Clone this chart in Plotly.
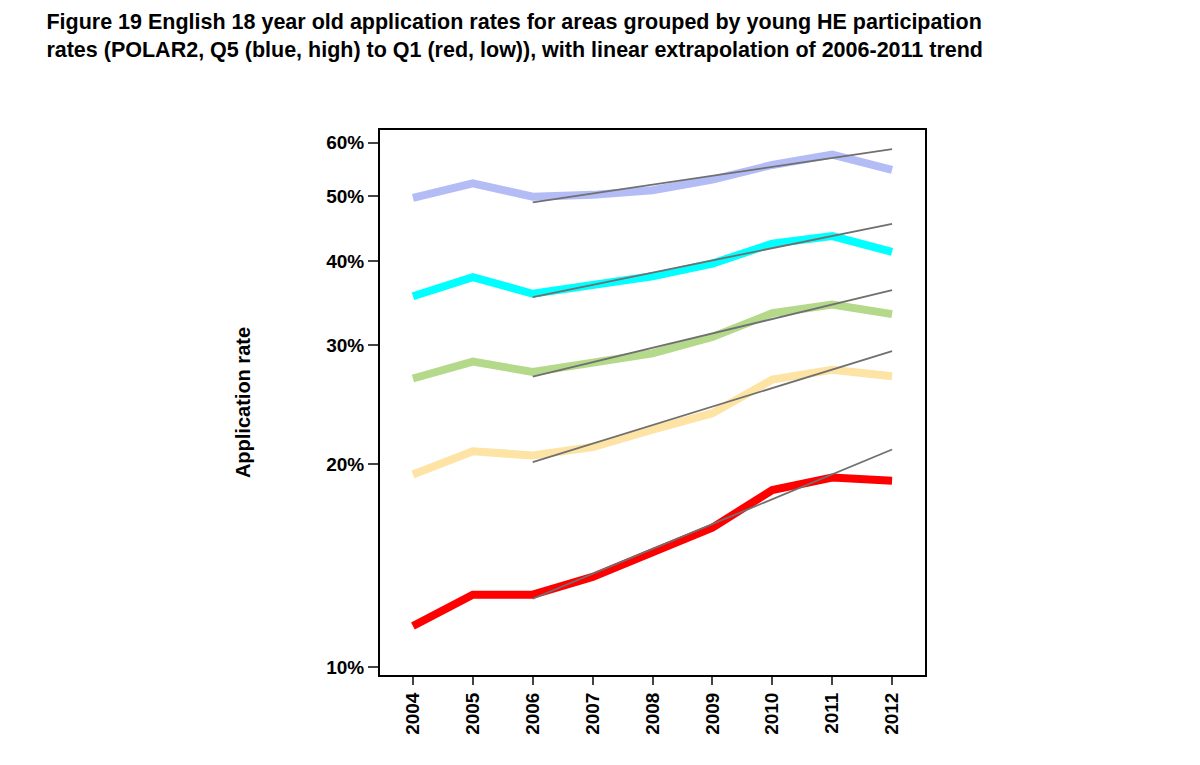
import numpy as np
import plotly.graph_objects as go

years = [2004, 2005, 2006, 2007, 2008, 2009, 2010, 2011, 2012]
q5 = [49.7, 52.2, 49.9, 50.2, 51.0, 52.9, 55.6, 57.6, 54.7]
q4 = [35.5, 37.9, 35.8, 36.8, 38.0, 39.7, 42.5, 43.6, 41.3]
q3 = [26.8, 28.4, 27.4, 28.2, 29.2, 30.9, 33.5, 34.5, 33.4]
q2 = [19.3, 20.9, 20.6, 21.2, 22.5, 23.8, 26.7, 27.6, 27.0]
q1 = [11.5, 12.8, 12.8, 13.6, 14.8, 16.1, 18.3, 19.1, 18.9]
series = [("Q5", q5, "#b3bcf5"), ("Q4", q4, "#00ffff"), ("Q3", q3, "#b5d98a"),
          ("Q2", q2, "#fde3a4"), ("Q1", q1, "#ff0000")]
fit_years = [2006, 2007, 2008, 2009, 2010, 2011]
trend_years = [2006, 2012]

fig = go.Figure()
for name, vals, col in series:
    fig.add_trace(go.Scatter(x=years, y=vals, mode="lines", name=name,
                             line=dict(color=col, width=8)))
for name, vals, col in series:
    # linear fit on log scale over 2006-2011, extended to 2012
    fy = np.array(fit_years)
    fv = np.log10([vals[years.index(y)] for y in fit_years])
    k, b = np.polyfit(fy, fv, 1)
    ty = np.array(trend_years)
    fig.add_trace(go.Scatter(x=ty, y=10 ** (k * ty + b), mode="lines",
                             line=dict(color="#707070", width=1.8), showlegend=False))

fig.update_layout(
    width=1200, height=765, showlegend=False,
    paper_bgcolor="white", plot_bgcolor="white",
    margin=dict(l=372, r=283, t=122, b=98),
    font=dict(family="Liberation Sans, Arial", color="black", size=18),
    title=dict(text="<b>Figure 19 English 18 year old application rates for areas grouped by young HE participation<br>"
                    "rates (POLAR2, Q5 (blue, high) to Q1 (red, low)), with linear extrapolation of 2006-2011 trend</b>",
               x=0.032, xanchor="left", y=0.972, yanchor="top", font=dict(size=21.5)),
)
fig.update_xaxes(range=[2003.45, 2012.55], tickvals=years, tickangle=-90,
                 ticktext=[f"<b>{y}</b>" for y in years],
                 showgrid=False, zeroline=False, showline=True, linecolor="black", linewidth=2,
                 mirror=True, ticks="outside", ticklen=8, tickwidth=1.5,
                 tickfont=dict(size=19))
fig.update_yaxes(type="log", range=[0.988, 1.797], tickvals=[10, 20, 30, 40, 50, 60],
                 ticktext=["<b>10%</b>", "<b>20%</b>", "<b>30%</b>", "<b>40%</b>", "<b>50%</b>", "<b>60%</b>"],
                 showgrid=False, zeroline=False, showline=True, linecolor="black", linewidth=2,
                 mirror=True, ticks="outside", ticklen=10, tickwidth=1.5,
                 title=dict(text="<b>Application rate</b>", standoff=70, font=dict(size=20)),
                 tickfont=dict(size=19))
fig.write_html("out.html")
